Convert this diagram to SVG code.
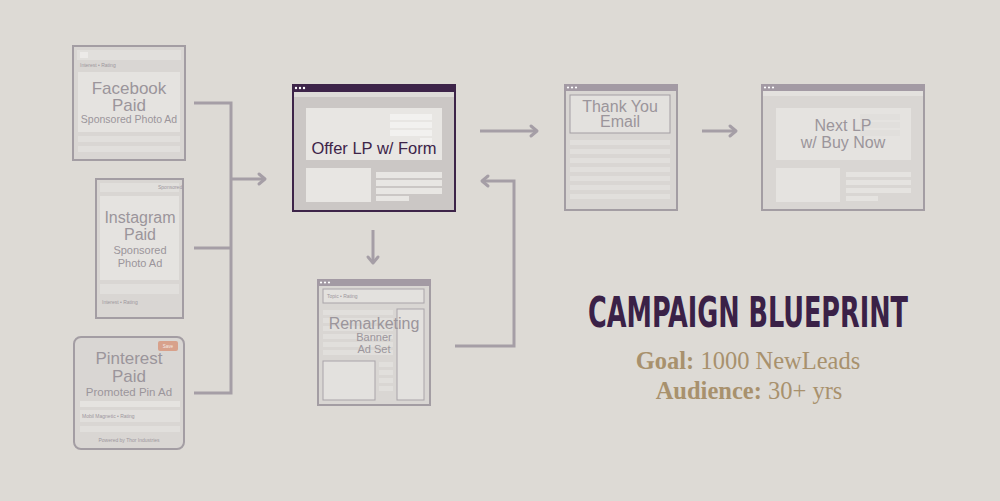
<svg xmlns="http://www.w3.org/2000/svg" width="1000" height="501" viewBox="0 0 1000 501">
<defs>
<style>
.bg{fill:#dddad5}
.card{fill:#d9d6d3;stroke:#a39da3;stroke-width:2}
.pane{fill:#e5e3e0}
.pane2{fill:#e1dfdc}
.bar{fill:#a39aa4}
.dot{fill:#ffffff}
.lbl{font-family:"Liberation Sans",Arial,sans-serif;fill:#9b959b;text-anchor:middle}
.tiny{font-family:"Liberation Sans",Arial,sans-serif;fill:#9d979d;font-size:5px}
.conn{fill:none;stroke:#a59ea6;stroke-width:3}
.head{fill:none;stroke:#a59ea6;stroke-width:3;stroke-linecap:round;stroke-linejoin:round}
.offer{fill:#cbc7c5;stroke:#3d2449;stroke-width:2}
.light{fill:#e8e6e3}
.wbar{fill:#f2f1ef}
.gold{font-family:"Liberation Serif","Times New Roman",serif;fill:#a8916d;font-size:24.5px;text-anchor:middle}
</style>
</defs>
<rect class="bg" x="0" y="0" width="1000" height="501"/>

<g id="facebook">
<rect class="card" x="73" y="46" width="112" height="114"/>
<rect class="pane2" x="77" y="50" width="104" height="10"/>
<rect x="80" y="52" width="8" height="6" fill="#eceae8"/>
<text class="tiny" x="80" y="67">Interest • Rating</text>
<rect class="pane" x="78" y="72" width="102" height="60"/>
<text class="lbl" x="129" y="94" font-size="17">Facebook</text>
<text class="lbl" x="129" y="111" font-size="17">Paid</text>
<text class="lbl" x="129" y="123" font-size="10.5">Sponsored Photo Ad</text>
<rect class="pane2" x="78" y="136" width="102" height="6"/>
<rect class="pane2" x="78" y="146" width="102" height="6"/>
</g>

<g id="instagram">
<rect class="card" x="96" y="179" width="87" height="139"/>
<rect class="pane2" x="100" y="183" width="79" height="9"/>
<text class="tiny" x="158" y="189">Sponsored</text>
<rect class="pane" x="100" y="196" width="79" height="84"/>
<text class="lbl" x="140" y="223" font-size="16">Instagram</text>
<text class="lbl" x="140" y="240" font-size="16">Paid</text>
<text class="lbl" x="140" y="254" font-size="11">Sponsored</text>
<text class="lbl" x="140" y="267" font-size="11">Photo Ad</text>
<rect class="pane2" x="100" y="284" width="79" height="10"/>
<text class="tiny" x="102" y="304">Interest • Rating</text>
</g>

<g id="pinterest">
<rect class="card" x="74" y="337" width="110" height="112" rx="7"/>
<rect x="158" y="341" width="20" height="10" rx="2" fill="#d8a18b"/>
<text x="168" y="348" font-family="Liberation Sans,Arial,sans-serif" font-size="4.5" fill="#f4ebe6" text-anchor="middle">Save</text>
<text class="lbl" x="129" y="364" font-size="17">Pinterest</text>
<text class="lbl" x="129" y="382" font-size="17">Paid</text>
<text class="lbl" x="129" y="396" font-size="11.5">Promoted Pin Ad</text>
<rect class="pane" x="80" y="401" width="100" height="6"/>
<rect class="pane2" x="80" y="410" width="100" height="12"/>
<text class="tiny" x="82" y="418">Mobil Magnetic • Rating</text>
<rect class="pane2" x="80" y="426" width="100" height="6"/>
<text class="tiny" x="129" y="442" text-anchor="middle">Powered by Thor Industries</text>
</g>

<g id="offer-lp">
<rect class="offer" x="293" y="85" width="162" height="126"/>
<rect x="292" y="84" width="164" height="8" fill="#3d2449"/>
<circle class="dot" cx="296" cy="88" r="1.2"/><circle class="dot" cx="300" cy="88" r="1.2"/><circle class="dot" cx="304" cy="88" r="1.2"/>
<rect x="294" y="92" width="160" height="5" fill="#dedcd9"/>
<rect class="light" x="306" y="108" width="136" height="52"/>
<rect class="wbar" x="390" y="114" width="42" height="6"/>
<rect class="wbar" x="390" y="122" width="42" height="6"/>
<rect class="wbar" x="390" y="130" width="42" height="6"/>
<rect class="wbar" x="420" y="138" width="12" height="6"/>
<text x="374" y="154" font-family="Liberation Sans,Arial,sans-serif" font-size="16.5" fill="#3d2449" text-anchor="middle">Offer LP w/ Form</text>
<rect class="light" x="306" y="168" width="65" height="34"/>
<rect class="light" x="376" y="172" width="66" height="6"/>
<rect class="light" x="376" y="180" width="66" height="6"/>
<rect class="light" x="376" y="188" width="66" height="6"/>
<rect class="light" x="376" y="196" width="33" height="5"/>
</g>

<g id="remarketing">
<rect class="card" x="318" y="280" width="112" height="125" fill="#dad7d4"/>
<rect class="bar" x="317" y="279" width="114" height="7"/>
<circle class="dot" cx="321" cy="282.5" r="1.1"/><circle class="dot" cx="325" cy="282.5" r="1.1"/><circle class="dot" cx="329" cy="282.5" r="1.1"/>
<rect x="323" y="289" width="101" height="14" fill="#e3e1de" stroke="#a9a3a9" stroke-width="1"/>
<text class="tiny" x="327" y="298">Topic • Rating</text>
<rect class="pane2" x="323" y="310" width="70" height="5"/>
<rect class="pane2" x="323" y="318" width="70" height="5"/>
<rect class="pane2" x="323" y="326" width="70" height="5"/>
<rect class="pane2" x="323" y="334" width="70" height="5"/>
<rect class="pane2" x="323" y="342" width="70" height="5"/>
<rect class="pane2" x="323" y="350" width="70" height="5"/>
<rect class="pane2" x="379" y="362" width="14" height="5"/>
<rect class="pane2" x="379" y="370" width="14" height="5"/>
<rect class="pane2" x="379" y="378" width="14" height="5"/>
<rect class="pane2" x="379" y="386" width="14" height="5"/>
<rect x="397" y="309" width="27" height="91" fill="#e3e1de" stroke="#a9a3a9" stroke-width="1"/>
<rect x="323" y="361" width="52" height="39" fill="#e3e1de" stroke="#a9a3a9" stroke-width="1"/>
<text class="lbl" x="374" y="329" font-size="16">Remarketing</text>
<text class="lbl" x="374" y="341" font-size="11">Banner</text>
<text class="lbl" x="374" y="353" font-size="11">Ad Set</text>
</g>

<g id="thank-you">
<rect class="card" x="565" y="85" width="112" height="125"/>
<rect class="bar" x="564" y="84" width="114" height="7"/>
<circle class="dot" cx="568" cy="87.5" r="1.1"/><circle class="dot" cx="572" cy="87.5" r="1.1"/><circle class="dot" cx="576" cy="87.5" r="1.1"/>
<rect x="570" y="95" width="100" height="38" fill="#e3e1de" stroke="#a39da3" stroke-width="1"/>
<text class="lbl" x="620" y="112" font-size="16">Thank You</text>
<text class="lbl" x="620" y="127" font-size="16">Email</text>
<rect class="pane2" x="570" y="140" width="100" height="5"/>
<rect class="pane2" x="570" y="149" width="100" height="5"/>
<rect class="pane2" x="570" y="158" width="100" height="5"/>
<rect class="pane2" x="570" y="167" width="100" height="5"/>
<rect class="pane2" x="570" y="176" width="100" height="5"/>
<rect class="pane2" x="570" y="185" width="100" height="5"/>
<rect class="pane2" x="570" y="194" width="100" height="5"/>
</g>

<g id="next-lp">
<rect class="card" x="762" y="85" width="162" height="125"/>
<rect class="bar" x="761" y="84" width="164" height="7"/>
<circle class="dot" cx="765" cy="87.5" r="1.1"/><circle class="dot" cx="769" cy="87.5" r="1.1"/><circle class="dot" cx="773" cy="87.5" r="1.1"/>
<rect x="763" y="91" width="160" height="5" fill="#e3e1de"/>
<rect class="pane" x="776" y="108" width="135" height="52"/>
<rect class="pane2" x="860" y="114" width="40" height="6"/>
<rect class="pane2" x="860" y="122" width="40" height="6"/>
<rect class="pane2" x="860" y="130" width="40" height="6"/>
<text class="lbl" x="843" y="131" font-size="16">Next LP</text>
<text class="lbl" x="843" y="148" font-size="16">w/ Buy Now</text>
<rect class="pane" x="776" y="168" width="64" height="34"/>
<rect class="pane" x="846" y="172" width="65" height="5"/>
<rect class="pane" x="846" y="180" width="65" height="5"/>
<rect class="pane" x="846" y="188" width="65" height="5"/>
<rect class="pane" x="846" y="196" width="32" height="5"/>
</g>

<g id="connectors">
<polyline class="conn" points="194,103 231,103 231,393 194,393"/>
<line class="conn" x1="194" y1="248" x2="231" y2="248"/>
<line class="conn" x1="231" y1="179" x2="265" y2="179"/>
<polyline class="head" points="259,174 265,179 259,184"/>
<line class="conn" x1="480" y1="131" x2="537" y2="131"/>
<polyline class="head" points="531,126 537,131 531,136"/>
<line class="conn" x1="702" y1="131" x2="736" y2="131"/>
<polyline class="head" points="730,126 736,131 730,136"/>
<line class="conn" x1="373" y1="230" x2="373" y2="263"/>
<polyline class="head" points="368,257 373,263 378,257"/>
<polyline class="conn" points="455,346 514,346 514,181 482,181"/>
<polyline class="head" points="488,176 482,181 488,186"/>
</g>

<g id="title">
<text x="748" y="327" font-family="Liberation Sans Narrow,DejaVu Sans Condensed,Liberation Sans,sans-serif" font-weight="bold" font-size="42" fill="#3a2147" text-anchor="middle" textLength="320" lengthAdjust="spacingAndGlyphs">CAMPAIGN BLUEPRINT</text>
<text class="gold" x="748" y="369"><tspan font-weight="bold">Goal:</tspan> 1000 NewLeads</text>
<text class="gold" x="749" y="399"><tspan font-weight="bold">Audience:</tspan> 30+ yrs</text>
</g>
</svg>
